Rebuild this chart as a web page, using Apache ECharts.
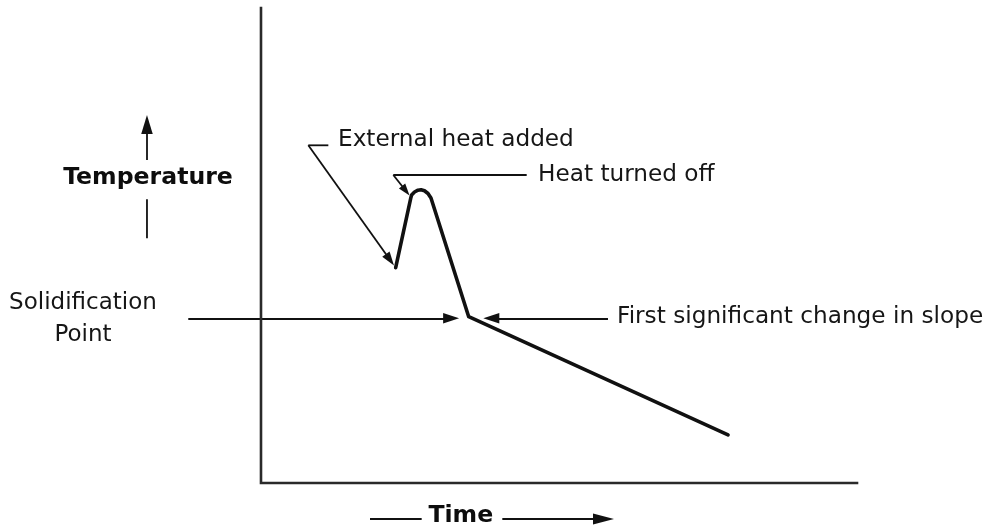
<!DOCTYPE html>
<html>
<head>
<meta charset="utf-8">
<script src="https://cdn.jsdelivr.net/npm/echarts@6/dist/echarts.min.js"></script>
<style>
html,body{margin:0;padding:0;background:#fff;}
#c{width:997px;height:528px;}
</style>
</head>
<body>
<div id="c"></div>
<script>
// ---- Data (time units 0..100 along the drawn axis, temperature units 0..100) ----
// Cooling curve: dip, heating bump, cooling, change of slope
const curveTime = [22.60, 25.12, 25.27, 25.76, 26.34, 26.85, 27.43, 28.02, 28.52, 34.85, 78.36];
const curveTemp = [45.33, 59.94, 60.63, 61.26, 61.64, 61.73, 61.52, 60.95, 60.00, 35.01, 10.11];

// L-shaped axes
const axisTime = [0, 0, 100];
const axisTemp = [100, 0, 0];

// Leader lines without arrowheads [x1,y1,x2,y2]
const leaderLines = [
  [7.94, 71.09, 11.30, 71.09],     // External heat added – short tick
  [22.20, 64.84, 44.58, 64.84],    // Heat turned off – horizontal
  [-19.13, 59.73, -19.13, 51.52],  // below Temperature
  [18.29, -7.58, 26.96, -7.58]     // left of Time
];

// Arrows [x1,y1,x2(tip),y2(tip)]
const arrows = [
  [7.94, 71.09, 22.32, 45.79],     // External heat added
  [22.20, 64.84, 24.92, 60.53],    // Heat turned off
  [-12.20, 34.67, 33.24, 34.67],   // Solidification point
  [58.22, 34.67, 37.30, 34.67],    // First significant change in slope
  [-19.13, 68.00, -19.13, 77.47],  // Temperature up
  [40.49, -7.58, 59.23, -7.58]     // Time right
];
// Arrowhead styles [width, length] in px
const arrowHeads = [[9, 14], [8, 12], [10.5, 16], [10.5, 16], [11.5, 19], [11, 21]];

// Text labels [x, y, text]
const leftTexts = [
  [12.92, 72.21, 'External heat added'],
  [46.48, 64.88, 'Heat turned off'],
  [59.73, 34.99, 'First significant change in slope']
];
const centerTexts = [
  [-29.87, 34.53, 'Solidification\nPoint']
];
const boldTexts = [
  [-18.96, 64.21, 'Temperature'],
  [33.52, -6.84, 'Time']
];

// ---- Chart ----
const FONT = '"DejaVu Sans", Verdana, sans-serif';
const INK = '#111';
const TXT = '#161616';
const chart = echarts.init(document.getElementById('c'), null, {renderer: 'canvas'});

function buildSeries(arrowData) {
  const series = [];
  series.push({
    type: 'line', data: axisTime.map((t, i) => [t, axisTemp[i]]),
    showSymbol: false, symbol: 'none', silent: true,
    lineStyle: {color: '#2a2a2a', width: 2.6, join: 'miter', cap: 'square'}
  });
  series.push({
    type: 'line', data: curveTime.map((t, i) => [t, curveTemp[i]]),
    showSymbol: false, symbol: 'none', silent: true,
    lineStyle: {color: INK, width: 3.6, join: 'round', cap: 'round'}
  });
  leaderLines.forEach(l => series.push({
    type: 'line', data: [[l[0], l[1]], [l[2], l[3]]],
    showSymbol: false, symbol: 'none', silent: true,
    lineStyle: {color: INK, width: 1.8}
  }));
  arrowData.forEach((a, i) => {
    const w = arrowHeads[i][0], h = arrowHeads[i][1];
    series.push({
      type: 'lines', coordinateSystem: 'cartesian2d', silent: true,
      symbol: ['none', 'triangle'],
      symbolSize: [0, [w, h]],
      lineStyle: {color: INK, width: 1.8, opacity: 1},
      itemStyle: {color: INK},
      data: [{coords: [[a[0], a[1]], [a[2], a[3]]]}]
    });
  });
  series.push({
    type: 'scatter', symbolSize: 0, silent: true, itemStyle: {opacity: 1},
    data: leftTexts.map(t => ({value: [t[0], t[1]], name: t[2]})),
    label: {show: true, position: 'right', distance: 0, formatter: p => p.name, opacity: 1,
      fontFamily: FONT, fontSize: 23.2, color: TXT, align: 'left', verticalAlign: 'middle'}
  });
  series.push({
    type: 'scatter', symbolSize: 0, silent: true, itemStyle: {opacity: 1},
    data: centerTexts.map(t => ({value: [t[0], t[1]], name: t[2]})),
    label: {show: true, position: 'inside', formatter: p => p.name, opacity: 1,
      fontFamily: FONT, fontSize: 23, lineHeight: 32, color: TXT, align: 'center', verticalAlign: 'middle'}
  });
  series.push({
    type: 'scatter', symbolSize: 0, silent: true, itemStyle: {opacity: 1},
    data: boldTexts.map(t => ({value: [t[0], t[1]], name: t[2]})),
    label: {show: true, position: 'inside', formatter: p => p.name, opacity: 1,
      fontFamily: FONT, fontSize: 23.6, fontWeight: 'bold', color: '#0d0d0d', align: 'center', verticalAlign: 'middle'}
  });
  return series;
}

const baseOption = {
  animation: false,
  backgroundColor: '#fff',
  grid: {left: 0, right: 0, top: 0, bottom: 0, containLabel: false},
  xAxis: {type: 'value', min: -43.79, max: 123.49, show: false},
  yAxis: {type: 'value', min: -9.474, max: 101.68, show: false},
  series: buildSeries(arrows)
};
chart.setOption(baseOption);

// The end symbol is centred on the line end: pull the end back by half the head length
// so that the arrow tip sits on the given data point.
const adjusted = arrows.map((a, i) => {
  const p0 = chart.convertToPixel({gridIndex: 0}, [a[0], a[1]]);
  const p1 = chart.convertToPixel({gridIndex: 0}, [a[2], a[3]]);
  const dx = p1[0] - p0[0], dy = p1[1] - p0[1];
  const len = Math.sqrt(dx * dx + dy * dy);
  const back = arrowHeads[i][1] / 2;
  const q = [p1[0] - dx / len * back, p1[1] - dy / len * back];
  const d = chart.convertFromPixel({gridIndex: 0}, q);
  return [a[0], a[1], d[0], d[1]];
});
chart.setOption({series: buildSeries(adjusted)}, {replaceMerge: ['series']});
</script>
</body>
</html>
